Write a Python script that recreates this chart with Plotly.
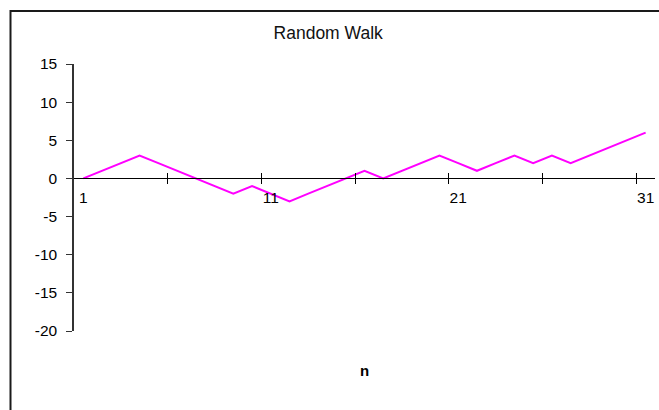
import plotly.graph_objects as go

# ---- data ----
n_values = list(range(1, 32))
walk = [0, 1, 2, 3, 2, 1, 0, -1, -2, -1, -2, -3, -2, -1, 0, 1,
        0, 1, 2, 3, 2, 1, 2, 3, 2, 3, 2, 3, 4, 5, 6]
x_label_vals = [1, 11, 21, 31]
x_label_text = ["1", "11", "21", "31"]
x_tick_vals = [5.5, 10.5, 15.5, 20.5, 25.5, 30.5]
y_tick_vals = [-20, -15, -10, -5, 0, 5, 10, 15]
y_tick_text = ["-20", "-15", "-10", "-5", "0", "5", "10", "15"]
title_text = "Random Walk"
x_title = "n"

FONT = "Liberation Sans, Arial, sans-serif"
Y_MIN, Y_MAX = -20, 15
zero_pos = (0 - Y_MIN) / (Y_MAX - Y_MIN)

W, H = 659, 410
ML, MR, MT, MB = 74, 4, 64, 79
PW, PH = W - ML - MR, H - MT - MB


def px_to_paper_x(px):
    return (px - ML) / PW


def px_to_paper_y(py):
    return (H - MB - py) / PH


fig = go.Figure()
fig.add_trace(go.Scatter(x=n_values, y=walk, mode="lines",
                         line=dict(color="#FF00FF", width=2),
                         showlegend=False, hoverinfo="x+y"))
# invisible copy so the overlay axis (upper halves of crossing ticks) is drawn
fig.add_trace(go.Scatter(x=n_values, y=walk, mode="lines", xaxis="x2",
                         line=dict(color="rgba(0,0,0,0)", width=0),
                         showlegend=False, hoverinfo="skip"))

border = dict(color="#1a1a1a", width=2)
fig.update_layout(
    width=W, height=H, autosize=False,
    margin=dict(l=ML, r=MR, t=MT, b=MB, pad=0),
    paper_bgcolor="white", plot_bgcolor="white",
    font=dict(family=FONT, color="black", size=15),
    title=dict(text=title_text, x=0.498, xref="container", xanchor="center",
               y=1 - 33 / H, yref="container", yanchor="middle",
               font=dict(family=FONT, size=17.5, color="#111")),
    xaxis=dict(range=[0.5, 31.5], anchor="free", position=zero_pos,
               showline=True, linecolor="black", linewidth=1,
               showgrid=False, zeroline=False,
               tickmode="array", tickvals=x_label_vals, ticktext=x_label_text,
               ticks="", ticklabelstandoff=5,
               tickfont=dict(family=FONT, size=15.5, color="black"),
               minor=dict(tickmode="array", tickvals=x_tick_vals,
                          ticks="outside", ticklen=5, tickcolor="black",
                          tickwidth=1, showgrid=False)),
    xaxis2=dict(range=[0.5, 31.5], overlaying="x", anchor="free",
                position=zero_pos, showline=False, showgrid=False,
                zeroline=False, tickmode="array", tickvals=x_tick_vals,
                ticks="inside", ticklen=5, tickcolor="black", tickwidth=1,
                showticklabels=False),
    yaxis=dict(range=[Y_MIN, Y_MAX], showline=True, linecolor="#333",
               linewidth=1.5, showgrid=False, zeroline=False,
               tickmode="array", tickvals=y_tick_vals, ticktext=y_tick_text,
               ticks="outside", ticklen=6, tickcolor="#333", tickwidth=1,
               ticklabelstandoff=6,
               tickfont=dict(family=FONT, size=15.5, color="black")),
    shapes=[
        # chart-area frame (top and left edges visible in the reference)
        dict(type="rect", xref="paper", yref="paper",
             x0=px_to_paper_x(10.5), x1=px_to_paper_x(W + 20),
             y0=px_to_paper_y(H + 20), y1=px_to_paper_y(11), line=border,
             fillcolor="rgba(0,0,0,0)", layer="above"),
    ],
    annotations=[dict(text="<b>" + x_title + "</b>", xref="paper", yref="paper",
                      x=0.5, y=px_to_paper_y(370), xanchor="center",
                      yanchor="middle", showarrow=False,
                      font=dict(family=FONT, size=15, color="black"))],
)

fig.write_html("out.html",
               config={"displayModeBar": False},
               post_script="document.body.style.margin='0';"
                           "document.body.style.padding='0';")
